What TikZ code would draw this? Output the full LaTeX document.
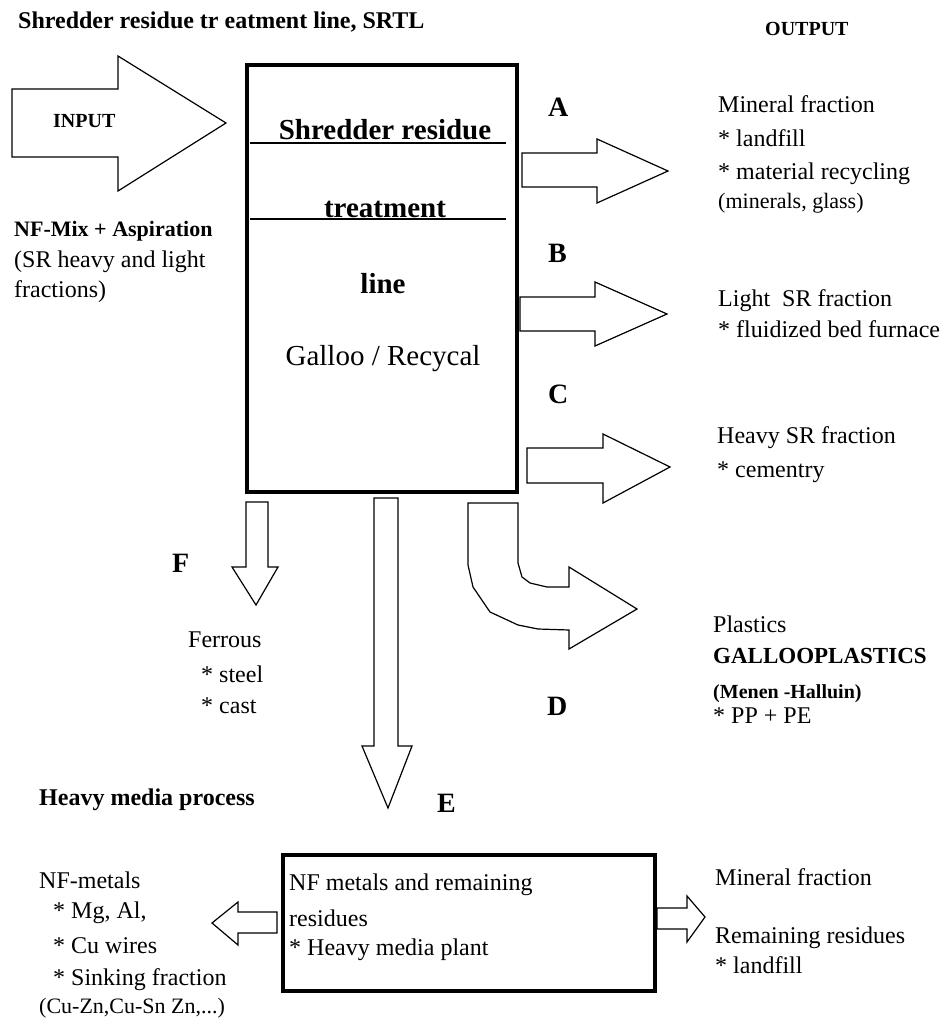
\documentclass[tikz,border=0pt]{standalone}
\usepackage{fontspec}
\setmainfont{Liberation Serif}
\begin{document}
\begin{tikzpicture}[x=1pt,y=-1pt,
  txt/.style={anchor=base west,inner sep=0pt,font=\fontsize{24}{28}\selectfont},
  smalltxt/.style={anchor=base west,inner sep=0pt,font=\fontsize{22}{26}\selectfont},
  boldtxt/.style={anchor=base west,inner sep=0pt,font=\fontsize{#1}{#1}\selectfont\bfseries},
  lbl/.style={anchor=base west,inner sep=0pt,font=\fontsize{28}{30}\selectfont\bfseries},
  boxtxt/.style={anchor=base,inner sep=0pt,font=\fontsize{29}{32}\selectfont},
  blockarrow/.style={draw=black,line width=1.2pt,fill=white,line join=miter},
  bigbox/.style={draw=black,line width=4pt,fill=white,inner sep=0pt}
]
\useasboundingbox (0,0) rectangle (946,1027);

% main boxes
\node[bigbox,minimum width=270pt,minimum height=427pt] (srtl) at (382,278.5) {};
\node[bigbox,minimum width=372pt,minimum height=136pt] (hmp) at (469,923) {};

% inner lines
\draw[line width=1.5pt] (250,143) -- (506,143);
\draw[line width=1.5pt] (250,219) -- (506,219);

% block arrows
\draw[blockarrow] (12,89) -- (118,89) -- (118,56) -- (226,123) -- (118,191) -- (118,157) -- (12,157) -- cycle;
\draw[blockarrow] (522,153) -- (597,153) -- (597,139) -- (668,171) -- (597,203) -- (597,187) -- (522,187) -- cycle;
\draw[blockarrow] (520,297) -- (595,297) -- (595,282) -- (667,314) -- (595,346) -- (595,331) -- (520,331) -- cycle;
\draw[blockarrow] (527,448) -- (603,448) -- (603,434) -- (670,467) -- (603,503) -- (603,483) -- (527,483) -- cycle;
\draw[blockarrow] (468,503) -- (518,503) -- (518,563) -- (522,577) -- (530,583) -- (547,587) -- (569,587) -- (569,567) -- (637,609) -- (569,649) -- (569,630) -- (538,629) -- (518,625) -- (490,612) -- (473,587) -- (468,565) -- cycle;
\draw[blockarrow] (246,502) -- (268,502) -- (268,567) -- (278,567) -- (256,605) -- (232,567) -- (246,567) -- cycle;
\draw[blockarrow] (374,498) -- (398,498) -- (398,746) -- (412,746) -- (388,808) -- (362,746) -- (374,746) -- cycle;
\draw[blockarrow] (277,912) -- (238,912) -- (238,902) -- (212,923) -- (238,945) -- (238,933) -- (277,933) -- cycle;
\draw[blockarrow] (657,908) -- (687,908) -- (687,896) -- (705,917) -- (687,942) -- (687,929) -- (657,929) -- cycle;

% headings
\node[boldtxt=24] (title) at (18,29) {Shredder residue tr eatment line, SRTL};
\node[boldtxt=20] (output) at (765,36) {OUTPUT};
\node[boldtxt=20] (input) at (53,128) {INPUT};
\node[boldtxt=22] (nfmix) at (14,236) {NF-Mix + Aspiration};
\node[txt] (srhl) at (14,267) {(SR heavy and light};
\node[txt] (fracs) at (14,297) {fractions)};

% main box text
\node[boxtxt,font=\fontsize{29}{32}\selectfont\bfseries] (b1) at (385,140) {Shredder residue};
\node[boxtxt,font=\fontsize{29}{32}\selectfont\bfseries] (b2) at (385,217) {treatment};
\node[boxtxt,font=\fontsize{29}{32}\selectfont\bfseries] (b3) at (383,293) {line};
\node[boxtxt] (b4) at (383,365) {Galloo / Recycal};

% labels
\node[lbl] (la) at (548,117) {A};
\node[lbl] (lb) at (548,262) {B};
\node[lbl] (lc) at (548,403) {C};
\node[lbl] (ld) at (547,715) {D};
\node[lbl] (le) at (437,812) {E};
\node[lbl] (lf) at (172,572) {F};

% outputs right
\node[txt] (a1) at (718,113) {Mineral fraction};
\node[txt] (a2) at (718,147) {* landfill};
\node[txt] (a3) at (718,179) {* material recycling};
\node[smalltxt] (a4) at (718,208) {(minerals, glass)};
\node[txt] (bb1) at (718,306) {Light~ SR fraction};
\node[txt] (bb2) at (718,337) {* fluidized bed furnace};
\node[txt] (c1) at (717,443) {Heavy SR fraction};
\node[txt] (c2) at (717,477) {* cementry};
\node[txt] (d1) at (713,632) {Plastics};
\node[boldtxt=23] (d2) at (713,663) {GALLOOPLASTICS};
\node[boldtxt=20] (d3) at (713,698) {(Menen -Halluin)};
\node[txt] (d4) at (713,723) {* PP + PE};

% ferrous
\node[txt] (f1) at (188,647) {Ferrous};
\node[txt] (f2) at (201,682) {* steel};
\node[txt] (f3) at (201,713) {* cast};

% heavy media
\node[boldtxt=24] (hm) at (39,805) {Heavy media process};
\node[txt] (h1) at (289,890) {NF metals and remaining};
\node[txt] (h2) at (289,926) {residues};
\node[txt] (h3) at (289,955) {* Heavy media plant};
\node[txt] (r1) at (715,885) {Mineral fraction};
\node[txt] (r2) at (715,943) {Remaining residues};
\node[txt] (r3) at (715,973) {* landfill};
\node[txt] (n1) at (39,888) {NF-metals};
\node[txt] (n2) at (53,918) {* Mg, Al,};
\node[txt] (n3) at (53,953) {* Cu wires};
\node[txt] (n4) at (53,985) {* Sinking fraction};
\node[smalltxt] (n5) at (39,1013) {(Cu-Zn,Cu-Sn Zn,...)};
\end{tikzpicture}
\end{document}
